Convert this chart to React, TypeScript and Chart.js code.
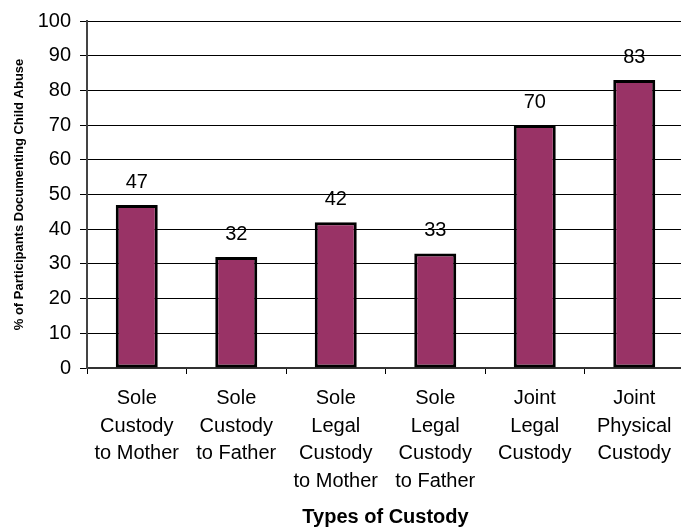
import React, { useEffect, useRef } from "react";
import { Chart, registerables } from "chart.js";

Chart.register(...registerables);

const categories: string[][] = [
  ["Sole", "Custody", "to Mother"],
  ["Sole", "Custody", "to Father"],
  ["Sole", "Legal", "Custody", "to Mother"],
  ["Sole", "Legal", "Custody", "to Father"],
  ["Joint", "Legal", "Custody"],
  ["Joint", "Physical", "Custody"],
];
const values: number[] = [47, 32, 42, 33, 70, 83];
const yMin = 0;
const yMax = 100;
const yStep = 10;
const xTitle = "Types of Custody";
const yTitle = "% of Participants Documenting Child Abuse";

const FONT = "'Liberation Sans', Arial, Helvetica, sans-serif";

const valueLabels = {
  id: "valueLabels",
  afterDatasetsDraw(chart: any) {
    const ctx = chart.ctx;
    const meta = chart.getDatasetMeta(0);
    ctx.save();
    ctx.font = `20px ${FONT}`;
    ctx.fillStyle = "#000";
    ctx.textAlign = "center";
    ctx.textBaseline = "alphabetic";
    meta.data.forEach((bar: any, i: number) => {
      const v = chart.data.datasets[0].data[i];
      ctx.fillText(String(v), bar.x, bar.y - 17);
    });
    ctx.restore();
  },
};

export default function App() {
  const ref = useRef<HTMLCanvasElement>(null);
  useEffect(() => {
    if (!ref.current) return;
    const chart = new Chart(ref.current, {
      type: "bar",
      data: {
        labels: categories,
        datasets: [
          {
            data: values,
            backgroundColor: "#993366",
            borderColor: "#000",
            borderWidth: 3,
            borderSkipped: false,
            barPercentage: 0.422,
            categoryPercentage: 1,
          },
        ],
      },
      options: {
        responsive: false,
        animation: false,
        layout: { padding: { top: 17, right: 0, bottom: 0, left: 0 } },
        plugins: {
          legend: { display: false },
          tooltip: { enabled: false },
        },
        scales: {
          x: {
            offset: true,
            grid: {
              offset: true,
              drawOnChartArea: false,
              drawTicks: true,
              tickLength: 6,
              color: "#000",
              lineWidth: 1,
            },
            border: { display: true, color: "#333", width: 2 },
            ticks: {
              color: "#000",
              font: { family: FONT, size: 20, lineHeight: 1.375 },
              padding: 11,
              maxRotation: 0,
              autoSkip: false,
            },
            title: {
              display: true,
              text: xTitle,
              color: "#000",
              font: { family: FONT, size: 20, weight: "bold", lineHeight: 1.2 },
              padding: { top: 0, bottom: 0 },
            },
            afterFit(scale: any) {
              scale.height = 161;
            },
          },
          y: {
            min: yMin,
            max: yMax,
            ticks: {
              stepSize: yStep,
              color: "#000",
              font: { family: FONT, size: 20 },
              padding: 9,
            },
            grid: {
              color: "#000",
              lineWidth: 1,
              tickLength: 7,
              drawTicks: true,
            },
            border: { display: true, color: "#444", width: 2 },
            title: {
              display: true,
              text: yTitle,
              color: "#000",
              font: { family: FONT, size: 13, weight: "bold", lineHeight: 1.2 },
              padding: { top: 12, bottom: 0 },
            },
            afterFit(scale: any) {
              scale.width = 87;
            },
          },
        },
      },
      plugins: [valueLabels],
    });
    return () => chart.destroy();
  }, []);

  return (
    <div
      style={{
        position: "fixed",
        left: 0,
        top: 0,
        width: 681,
        height: 529,
        overflow: "hidden",
        background: "#fff",
      }}
    >
      <canvas ref={ref} width={684} height={529} style={{ width: 684, height: 529, display: "block" }} />
    </div>
  );
}
